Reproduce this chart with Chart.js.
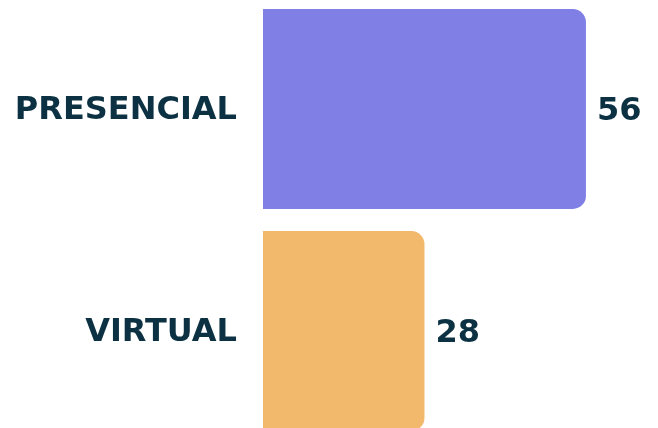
<!DOCTYPE html>
<html>
<head>
<meta charset="utf-8">
<script src="https://cdn.jsdelivr.net/npm/chart.js@4"></script>
<style>
  html, body { margin: 0; padding: 0; background: #fff; overflow: hidden; }
  body { width: 658px; height: 428px; position: relative; }
  #wrap { width: 658px; height: 444px; position: absolute; left: 0; top: -2px; }
</style>
</head>
<body>
<div id="wrap"><canvas id="modalidadChart"></canvas></div>
<script>
const categories = ['PRESENCIAL', 'VIRTUAL'];
const values = [56, 28];
const barColors = ['#7f7fe6', '#f2b86b'];
const axisMax = 60;

const textColor = '#0b3142';
const labelFont = { family: "'DejaVu Sans', sans-serif", size: 32, weight: 'bold' };

// dibuja el valor al final de cada barra
const valueLabels = {
  id: 'valueLabels',
  afterDatasetsDraw(chart) {
    const ctx = chart.ctx;
    const meta = chart.getDatasetMeta(0);
    ctx.save();
    ctx.font = `bold ${labelFont.size}px ${labelFont.family}`;
    ctx.fillStyle = textColor;
    ctx.textAlign = 'left';
    ctx.textBaseline = 'middle';
    meta.data.forEach((bar, i) => {
      ctx.fillText(String(values[i]), bar.x + 11, bar.y + 3);
    });
    ctx.restore();
  }
};

new Chart(document.getElementById('modalidadChart'), {
  type: 'bar',
  data: {
    labels: categories,
    datasets: [{
      data: values,
      backgroundColor: barColors,
      borderRadius: 13,
      borderSkipped: 'start',
      barPercentage: 1,
      categoryPercentage: 0.9
    }]
  },
  options: {
    indexAxis: 'y',
    responsive: true,
    maintainAspectRatio: false,
    animation: false,
    layout: { padding: { top: 0, bottom: 0, right: 49, left: 0 } },
    plugins: {
      legend: { display: false },
      tooltip: { enabled: false }
    },
    scales: {
      x: {
        display: false,
        min: 0,
        max: axisMax
      },
      y: {
        grid: { display: false, drawTicks: false },
        border: { display: false },
        ticks: {
          color: textColor,
          font: labelFont,
          padding: 26,
          labelOffset: 2
        },
        afterFit(scale) {
          // ancho fijo para el eje y sin relleno vertical extra
          scale.width = 263;
          scale.paddingTop = 0;
          scale.paddingBottom = 0;
        }
      }
    }
  },
  plugins: [valueLabels]
});
</script>
</body>
</html>
